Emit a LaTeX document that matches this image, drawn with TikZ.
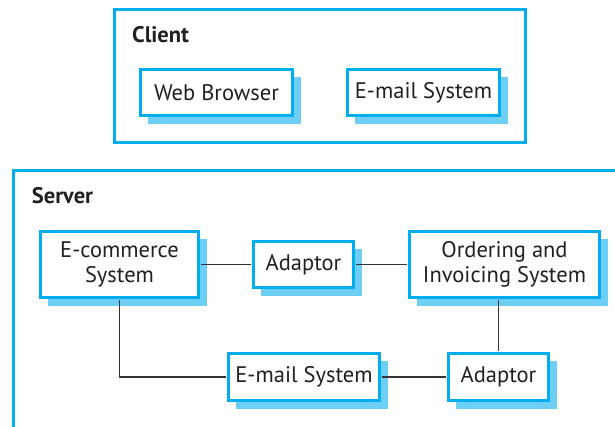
\documentclass[tikz,border=0pt]{standalone}
\usepackage{fontspec}
\setmainfont{PT Sans}
\usetikzlibrary{shadows}
\definecolor{bordercyan}{HTML}{00AEEF}
\definecolor{shadowblue}{HTML}{6DCFF6}
\definecolor{textdark}{HTML}{231F20}
\definecolor{linedark}{HTML}{333333}
\tikzset{
  compbox/.style={draw=bordercyan, line width=2.6pt, fill=white, inner sep=0pt,
    align=center, text=textdark, font=\fontsize{22.5}{24.5}\selectfont,
    drop shadow={shadow xshift=8pt, shadow yshift=-8pt, fill=shadowblue, opacity=1}},
  container/.style={draw=bordercyan, line width=2.6pt},
  grouplabel/.style={anchor=base west, inner sep=0pt, text=textdark,
    font=\fontsize{22.5}{24}\selectfont\bfseries},
  conn/.style={draw=linedark, line width=1.2pt, shorten >=1.3pt, shorten <=1.3pt}
}
\begin{document}
\begin{tikzpicture}[x=1pt, y=-1pt]
\useasboundingbox (0,0) rectangle (615,427);
% Client container
\draw[container] (114.3,9.3) rectangle (525.7,142.7);
\node[grouplabel] (clientlbl) at (132,42.7) {Client};
\node[compbox, minimum width=152.4pt, minimum height=46.4pt] (web) at (216.5,92.5) {Web Browser};
\node[compbox, minimum width=152.4pt, minimum height=46.4pt] (mailc) at (423.5,92.5) {E-mail System};
% Server container (open on the right and bottom)
\draw[container] (13.3,427) -- (13.3,170.8) -- (615,170.8);
\node[grouplabel] (serverlbl) at (31.7,204) {Server};
\node[compbox, minimum width=158.4pt, minimum height=66.4pt] (ecom) at (119.5,264.5) {E-commerce\\System};
\node[compbox, minimum width=100.4pt, minimum height=46.4pt] (adapt1) at (303.5,264.5) {Adaptor};
\node[compbox, minimum width=190.4pt, minimum height=66.4pt] (order) at (504.5,264.5) {Ordering and\\Invoicing System};
\node[compbox, minimum width=151.4pt, minimum height=47.4pt] (mails) at (304,377) {E-mail System};
\node[compbox, minimum width=100.4pt, minimum height=47.4pt] (adapt2) at (498.5,377) {Adaptor};
% Connectors
\draw[conn] (ecom.east) -- (adapt1.west);
\draw[conn] (adapt1.east) -- (order.west);
\draw[conn] (ecom.south) |- (mails.west);
\draw[conn] (mails.east) -- (adapt2.west);
\draw[conn] (adapt2.north) -- (adapt2.north |- order.south);
\end{tikzpicture}
\end{document}
